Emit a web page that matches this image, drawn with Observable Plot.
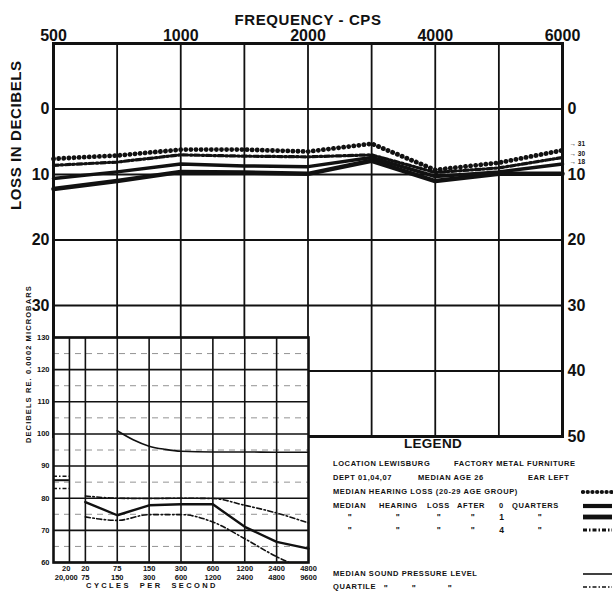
<!DOCTYPE html>
<html><head><meta charset="utf-8">
<script src="https://cdn.jsdelivr.net/npm/d3@7"></script>
<script src="https://cdn.jsdelivr.net/npm/@observablehq/plot@0.6"></script>
<style>
body{margin:0;background:#fff;}
#wrap{position:relative;width:613px;height:594px;overflow:hidden;background:#fff;font-family:"Liberation Sans",Arial,sans-serif;font-weight:bold;color:#111}
.layer{position:absolute;left:0;top:0}
.lg{position:absolute;font-size:7.5px;letter-spacing:0.6px;white-space:pre;line-height:1;transform:translateY(-50%);color:#111}
.ctr{transform:translate(-50%,-50%)}
</style></head><body>
<div id="wrap">
  <div id="main" class="layer"></div>
  <div id="inset" class="layer" style="top:330px"></div>
  <div id="legend" class="layer" style="width:613px;height:594px"></div>
</div>
<script>
// ---------- main audiogram data ----------
const freqPositions = ["500","750","1000","1500","2000","3000","4000","5000","6000"];
const freqTickLabels = ["500","","1000","","2000","","4000","","6000"];
const lossTicksLeft = [0,10,20,30];
const lossTicks = [0,10,20,30,40,50];
const median2029 = [7.6, 7.1, 6.2, 6.2, 6.5, 5.3, 9.3, 8.2, 6.3];
const after0Quarters = [10.6, 9.6, 8.4, 8.7, 8.8, 7.4, 10.3, 9.6, 8.4];
const after1Quarter = [12.2, 11.0, 9.6, 9.7, 9.9, 7.9, 11.0, 9.9, 9.9];
const after4Quarters = [8.6, 8.1, 7.0, 7.2, 7.3, 7.0, 9.7, 9.0, 7.4];
const endLabels = ["→ 31", "→ 30", "→ 18"];

// ---------- inset (sound pressure level) data ----------
const splMajor = [60,70,80,90,100,110,120,130];
const splMinor = [65,75,85,95,105,115,125];
const bandLines = [1,2,4,6,8,10,12,14];
const bandLabelPos = [0.8,2,4,6,8,10,12,14,16];
const bandTop = ["20","20","75","150","300","600","1200","2400","4800"];
const bandBottom = ["20,000","75","150","300","600","1200","2400","4800","9600"];
const bandX = [2,4,6,8,10,12,14,16];
const medianSPL = [78.8, 74.7, 77.8, 78.1, 78.1, 71.1, 66.4, 64.3];
const upperQuartile = [80.7, 80.0, 79.9, 80.0, 79.9, 77.8, 75.4, 72.3];
const lowerQuartile = [74.2, 73.1, 74.9, 74.9, 72.6, 67.4, 61.8, 57.5];
const topCurveX = [4, 5, 6, 7, 8, 10, 12, 14, 16];
const topCurve = [101, 98.2, 96.2, 95.2, 94.6, 94.4, 94.4, 94.3, 94.3];
const overallMedian = [85.6];
const overallQuartiles = [86.8, 83.0];

const FONT = '"Liberation Sans", Arial, sans-serif';
const INK = "#111";
const rows = (vals, xs) => vals.map((v, k) => ({x: xs ? xs[k] : k, v}));
const idx = freqPositions.map((_, k) => k);
const endSeries = [median2029, after4Quarters, after0Quarters];
const endShift = [-6, -4, -2.5];

const main = Plot.plot({
  width: 613, height: 450,
  marginLeft: 53, marginRight: 51, marginTop: 43, marginBottom: 14,
  style: {fontFamily: FONT, fontWeight: "bold", background: "transparent", color: INK, overflow: "visible"},
  x: {domain: [0, 8], axis: null},
  y: {domain: [-10, 50], reverse: true, axis: null},
  marks: [
    Plot.ruleY(lossTicks, {stroke: INK, strokeWidth: 1.8}),
    Plot.ruleX(idx, {stroke: INK, strokeWidth: 1.8}),
    Plot.line(rows(after1Quarter), {x: "x", y: "v", stroke: INK, strokeWidth: 4.5}),
    Plot.line(rows(after0Quarters), {x: "x", y: "v", stroke: INK, strokeWidth: 3.5}),
    Plot.line(rows(after4Quarters), {x: "x", y: "v", stroke: INK, strokeWidth: 3.2, strokeDasharray: "5,2.5,1.8,2.5"}),
    Plot.line(rows(median2029), {x: "x", y: "v", stroke: INK, strokeWidth: 4.8, strokeDasharray: "0.1,5", strokeLinecap: "round"}),
    Plot.frame({stroke: INK, strokeWidth: 3}),
    Plot.axisX({anchor: "top", ticks: idx.filter(k => freqTickLabels[k]), tickFormat: k => freqTickLabels[k], tickSize: 0, tickPadding: 3, fontSize: 16, label: null}),
    Plot.axisY({anchor: "left", ticks: lossTicksLeft, tickSize: 0, tickPadding: 4, fontSize: 16, label: null}),
    Plot.axisY({anchor: "right", ticks: lossTicks, tickSize: 0, tickPadding: 5, fontSize: 16, label: null}),
    Plot.text(["FREQUENCY - CPS"], {frameAnchor: "top", dy: -29, fontSize: 15}),
    Plot.text(["LOSS IN DECIBELS"], {frameAnchor: "left", rotate: -90, dx: -37, dy: -30, fontSize: 15}),
    ...endSeries.map((s, k) => Plot.text([endLabels[k]],
      {x: () => 8, y: () => s[s.length - 1], dx: 7, dy: endShift[k], textAnchor: "start", fontSize: 6.5}))
  ]
});
document.getElementById("main").appendChild(main);
d3.select(main).selectAll("text").filter(function(){ return /LOSS|FREQ/.test(this.textContent); }).attr("letter-spacing", 0.6);

const inset = Plot.plot({
  width: 330, height: 264,
  marginLeft: 53, marginRight: 22, marginTop: 7, marginBottom: 32,
  style: {fontFamily: FONT, fontWeight: "bold", background: "transparent", color: INK, overflow: "visible"},
  x: {domain: [0, 16], axis: null},
  y: {domain: [60, 130], axis: null},
  marks: [
    Plot.frame({fill: "white"}),
    Plot.ruleY(splMinor, {stroke: "#777", strokeWidth: 0.8, strokeDasharray: "6,5"}),
    Plot.ruleY(splMajor, {stroke: INK, strokeWidth: 1.6}),
    Plot.ruleX(bandLines, {stroke: INK, strokeWidth: 1.6}),
    Plot.ruleY(overallMedian, {x1: () => 0, x2: () => 1, stroke: INK, strokeWidth: 2}),
    Plot.ruleY(overallQuartiles, {x1: () => 0, x2: () => 1, stroke: INK, strokeWidth: 1.5, strokeDasharray: "4,2,1.5,2"}),
    Plot.line(rows(topCurve, topCurveX), {x: "x", y: "v", stroke: INK, strokeWidth: 1.6, curve: "monotone-x"}),
    Plot.line(rows(upperQuartile, bandX), {x: "x", y: "v", stroke: INK, strokeWidth: 1.6, strokeDasharray: "5,2.5,1.5,2.5", curve: "monotone-x"}),
    Plot.line(rows(lowerQuartile, bandX), {x: "x", y: "v", stroke: INK, strokeWidth: 1.6, strokeDasharray: "5,2.5,1.5,2.5", curve: "monotone-x", clip: true}),
    Plot.line(rows(medianSPL, bandX), {x: "x", y: "v", stroke: INK, strokeWidth: 2.4}),
    Plot.frame({stroke: INK, strokeWidth: 2.6}),
    Plot.axisY({ticks: splMajor, tickSize: 0, tickPadding: 4, fontSize: 7.5, label: null}),
    Plot.text(bandTop, {x: (d, k) => bandLabelPos[k], frameAnchor: "bottom", dy: 6, lineAnchor: "middle", fontSize: 7.5}),
    Plot.text(bandBottom, {x: (d, k) => bandLabelPos[k], frameAnchor: "bottom", dy: 15, lineAnchor: "middle", fontSize: 7.5}),
    Plot.text(["CYCLES  PER  SECOND"], {frameAnchor: "bottom", dx: -29, dy: 25, fontSize: 7.5}),
    Plot.text(["DECIBELS RE. 0.0002 MICROBARS"], {frameAnchor: "left", rotate: -90, dx: -25, dy: -7, fontSize: 7.5})
  ]
});
document.getElementById("inset").appendChild(inset);
d3.select(inset).selectAll("text").filter(function(){ return /CYCLES/.test(this.textContent); }).attr("letter-spacing", 2.4);
d3.select(inset).selectAll("text").filter(function(){ return /DECIBELS/.test(this.textContent); }).attr("letter-spacing", 1.1);

// ---------- legend ----------
const legend = document.getElementById("legend");
function txt(s, x, y, cls, extra) {
  const e = document.createElement("div");
  e.className = "lg" + (cls ? " " + cls : "");
  e.textContent = s; e.style.left = x + "px"; e.style.top = y + "px";
  if (extra) Object.assign(e.style, extra);
  legend.appendChild(e);
}
function swatch(y, width, dash, cap) {
  const ns = "http://www.w3.org/2000/svg";
  const s = document.createElementNS(ns, "svg");
  s.setAttribute("width", 32); s.setAttribute("height", 10);
  s.style.position = "absolute"; s.style.left = "581px"; s.style.top = (y - 5) + "px";
  const l = document.createElementNS(ns, "line");
  l.setAttribute("x1", 2); l.setAttribute("x2", 31); l.setAttribute("y1", 5); l.setAttribute("y2", 5);
  l.setAttribute("stroke", INK); l.setAttribute("stroke-width", width);
  if (dash) l.setAttribute("stroke-dasharray", dash);
  if (cap) l.setAttribute("stroke-linecap", cap);
  s.appendChild(l); legend.appendChild(s);
}
txt("LEGEND", 433, 444, "ctr", {fontSize: "13.5px", letterSpacing: "0.3px"});
txt("LOCATION LEWISBURG", 333, 464);
txt("FACTORY METAL FURNITURE", 454, 464);
txt("DEPT 01,04,07", 333, 478);
txt("MEDIAN AGE 26", 418, 478);
txt("EAR LEFT", 528, 478);
txt("MEDIAN HEARING LOSS (20-29 AGE GROUP)", 333, 492);
const wordL = [333, 379, 427, 457, 499, 512];
const words = ["MEDIAN", "HEARING", "LOSS", "AFTER", "0", "QUARTERS"];
words.forEach((w, k) => txt(w, wordL[k], 506));
const dittoC = [350, 398, 439, 473, 502, 540];
[["\"", "\"", "\"", "\"", "1", "\""], ["\"", "\"", "\"", "\"", "4", "\""]].forEach((r, j) =>
  r.forEach((w, k) => txt(w, dittoC[k], j ? 530 : 517, "ctr", {fontSize: "8.5px"})));
txt("MEDIAN SOUND PRESSURE LEVEL", 333, 574);
txt("QUARTILE", 333, 587);
[386, 414, 450].forEach(x => txt("\"", x, 588, "ctr", {fontSize: "8.5px"}));
swatch(492, 4.2, "0.1,4.6", "round");
swatch(506, 4.2);
swatch(517, 4.8);
swatch(530, 3, "4,2,1.5,2");
swatch(574, 1.6);
swatch(587, 1.4, "4,2,1.5,2");
</script>
</body></html>
